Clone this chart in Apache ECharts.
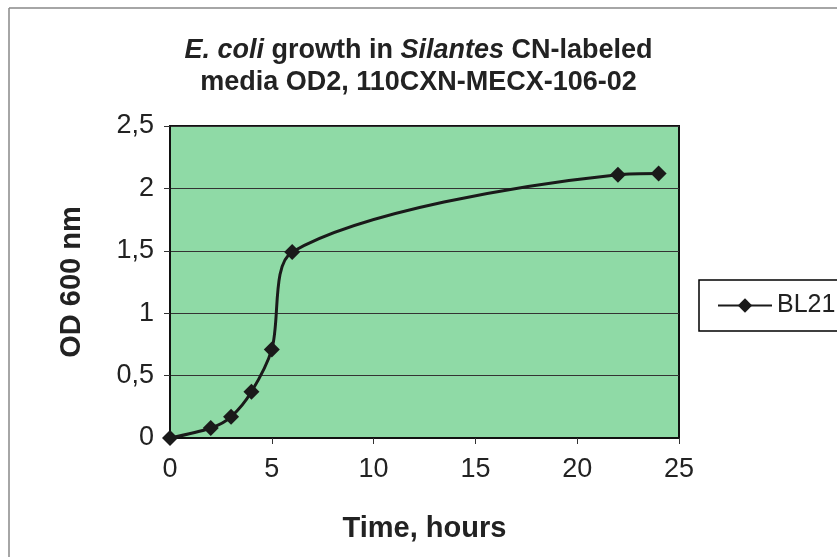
<!DOCTYPE html>
<html>
<head>
<meta charset="utf-8">
<script src="https://cdn.jsdelivr.net/npm/echarts@6/dist/echarts.min.js"></script>
<style>html,body{margin:0;padding:0;background:#fff}#c{width:837px;height:557px}</style>
</head>
<body>
<div id="c"></div>
<script>
const timeHours = [0, 2, 3, 4, 5, 6, 22, 24];
const od600 = [0, 0.08, 0.17, 0.37, 0.71, 1.49, 2.11, 2.12];
const xTicks = [0, 5, 10, 15, 20, 25];
const yTicks = [0, 0.5, 1, 1.5, 2, 2.5];
const seriesName = 'BL21';

const chart = echarts.init(document.getElementById('c'));
const fmt = v => String(v).replace('.', ',');
const FF = 'Liberation Sans, Arial';
chart.setOption({
  animation: false,
  backgroundColor: '#fff',
  graphic: [
    {type: 'line', shape: {x1: 9, y1: 8, x2: 840, y2: 8}, style: {stroke: '#888', lineWidth: 1.5}},
    {type: 'line', shape: {x1: 9, y1: 8, x2: 9, y2: 560}, style: {stroke: '#888', lineWidth: 1.5}}
  ],
  title: {
    left: 'center',
    top: 30,
    textStyle: {
      rich: {
        b: {fontFamily: FF, fontWeight: 'bold', fontSize: 27, color: '#222', lineHeight: 32},
        bi: {fontFamily: FF, fontWeight: 'bold', fontStyle: 'italic', fontSize: 27, color: '#222', lineHeight: 32}
      }
    },
    text: '{bi|E. coli}{b| growth in }{bi|Silantes}{b| CN-labeled}\n{b|media OD2, 110CXN-MECX-106-02}'
  },
  legend: {
    left: 699, top: 280,
    padding: [13, 60, 13, 18],
    borderColor: '#000', borderWidth: 1.5,
    backgroundColor: '#fff',
    itemWidth: 54, itemHeight: 18,
    itemGap: 0,
    textStyle: {fontFamily: FF, fontSize: 25, color: '#222'},
    data: [seriesName]
  },
  grid: {
    left: 170, right: 158, top: 126, bottom: 119,
    show: true, backgroundColor: '#8fdaa6',
    borderColor: '#111', borderWidth: 2
  },
  xAxis: {
    type: 'value', min: 0, max: 25, interval: 5,
    name: 'Time, hours', nameLocation: 'middle', nameGap: 76,
    nameTextStyle: {fontFamily: FF, fontWeight: 'bold', fontSize: 29, color: '#222'},
    axisLine: {show: true, lineStyle: {color: '#111', width: 2}},
    axisTick: {show: true, length: 6, lineStyle: {color: '#333'}},
    axisLabel: {fontFamily: FF, fontSize: 27, color: '#222', margin: 18, customValues: xTicks},
    splitLine: {show: false}
  },
  yAxis: {
    type: 'value', min: 0, max: 2.5, interval: 0.5,
    name: 'OD 600 nm', nameLocation: 'middle', nameGap: 84, nameRotate: 90,
    nameTextStyle: {fontFamily: FF, fontWeight: 'bold', fontSize: 29, color: '#222'},
    axisLine: {show: true, lineStyle: {color: '#111', width: 2}},
    axisTick: {show: true, length: 6, lineStyle: {color: '#333'}},
    axisLabel: {fontFamily: FF, fontSize: 27, color: '#222', margin: 16,
      formatter: v => fmt(v), customValues: yTicks},
    splitLine: {show: true, lineStyle: {color: '#333', width: 1}}
  },
  series: [{
    name: seriesName,
    type: 'line',
    smooth: 0.3,
    data: timeHours.map((t, i) => [t, od600[i]]),
    symbol: 'diamond', symbolSize: 16,
    lineStyle: {color: '#1a1a1a', width: 3},
    itemStyle: {color: '#1a1a1a'},
    z: 5
  }]
});
</script>
</body>
</html>
